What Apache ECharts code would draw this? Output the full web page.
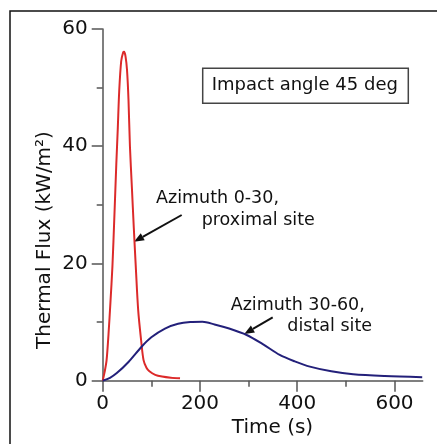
<!DOCTYPE html>
<html>
<head>
<meta charset="utf-8">
<script src="https://cdn.jsdelivr.net/npm/echarts@6/dist/echarts.min.js"></script>
<style>
  html, body { margin: 0; padding: 0; background: #fff; }
  #chart { width: 437px; height: 444px; }
</style>
</head>
<body>
<div id="chart"></div>
<script>
// proximal site (azimuth 0-30)
const redTime = [0, 4, 8, 12, 16, 20, 24, 28, 31, 34, 38, 42, 44, 47, 50, 53, 56, 60, 64, 68, 73, 79, 84, 90, 96, 108, 122, 140, 159];
const redFlux = [0, 1.5, 3.5, 8, 13.5, 19.5, 28, 37, 43, 49.5, 54.5, 56, 56.1, 55.3, 53, 48, 40, 33, 26, 19.5, 12, 6.9, 3.5, 2.2, 1.6, 1.0, 0.7, 0.5, 0.4];
// distal site (azimuth 30-60)
const blueTime = [0, 15, 29, 53, 80, 100, 128, 155, 180, 205, 230, 260, 296, 330, 364, 395, 426, 470, 515, 580, 657];
const blueFlux = [0, 0.5, 1.3, 3.2, 5.8, 7.4, 8.9, 9.7, 10.0, 10.05, 9.6, 8.9, 7.8, 6.2, 4.4, 3.3, 2.4, 1.6, 1.1, 0.8, 0.6];

const xMajor = [0, 200, 400, 600];
const xMinor = [100, 300, 500];
const xMax = 658;

const font = 'DejaVu Sans';
const axisColor = '#555';
const textColor = '#111';

const chart = echarts.init(document.getElementById('chart'));

const toPairs = (xs, ys) => xs.map((x, i) => [x, ys[i]]);

// arrow = line + filled head
const arrow = (x1, y1, x2, y2) => {
  const dx = x2 - x1, dy = y2 - y1;
  const len = Math.sqrt(dx * dx + dy * dy);
  const ux = dx / len, uy = dy / len;
  const bx = x2 - 10 * ux, by = y2 - 10 * uy;
  return [
    { type: 'line', shape: { x1: x1, y1: y1, x2: bx, y2: by }, style: { stroke: '#111', lineWidth: 2 } },
    { type: 'polygon', shape: { points: [[x2, y2], [bx - 4 * uy, by + 4 * ux], [bx + 4 * uy, by - 4 * ux]] }, style: { fill: '#111' } }
  ];
};

const txt = (x, y, s, size, align, rot) => ({
  type: 'text', x: x, y: y, rotation: rot || 0,
  style: { text: s, font: size + 'px "' + font + '"', fill: textColor, textAlign: align || 'left', textVerticalAlign: 'middle' }
});

const grid = { left: 102.7, right: 14.3, top: 29, bottom: 63.3 };

const option = {
  backgroundColor: '#fff',
  animation: false,
  grid: [grid, Object.assign({}, grid)],
  xAxis: [
    {
      type: 'value', gridIndex: 0, min: 0, max: xMax,
      axisLine: { lineStyle: { color: axisColor, width: 1.5 } },
      axisTick: { customValues: xMajor, length: 11, lineStyle: { color: axisColor, width: 1.5 } },
      axisLabel: { customValues: xMajor, margin: 13, fontSize: 20, fontFamily: font, color: textColor },
      splitLine: { show: false }
    },
    {
      type: 'value', gridIndex: 1, min: 0, max: xMax,
      axisLine: { show: false },
      axisTick: { customValues: xMinor, length: 6, lineStyle: { color: axisColor, width: 1.5 } },
      axisLabel: { show: false },
      splitLine: { show: false }
    }
  ],
  yAxis: [
    {
      type: 'value', gridIndex: 0, min: 0, max: 60, interval: 20,
      axisLine: { show: true, lineStyle: { color: axisColor, width: 1.5 } },
      axisTick: { show: true, length: 11, lineStyle: { color: axisColor, width: 1.5 } },
      minorTick: { show: true, splitNumber: 2, length: 6, lineStyle: { color: axisColor, width: 1.5 } },
      axisLabel: { margin: 15, fontSize: 20, fontFamily: font, color: textColor },
      splitLine: { show: false }
    },
    {
      type: 'value', gridIndex: 1, min: 0, max: 60, show: false
    }
  ],
  series: [
    {
      type: 'line', xAxisIndex: 0, yAxisIndex: 0,
      data: toPairs(redTime, redFlux),
      showSymbol: false, smooth: 0.3,
      lineStyle: { color: '#dc2a2a', width: 2 }
    },
    {
      type: 'line', xAxisIndex: 0, yAxisIndex: 0,
      data: toPairs(blueTime, blueFlux),
      showSymbol: false, smooth: 0.3,
      lineStyle: { color: '#23207a', width: 2 }
    }
  ],
  graphic: [
    // outer frame
    { type: 'rect', shape: { x: 10, y: 11, width: 460, height: 460 }, style: { fill: 'none', stroke: '#111', lineWidth: 1.5 } },
    // axis titles
    txt(45, 240, 'Thermal Flux (kW/m²)', 20, 'center', Math.PI / 2),
    txt(272.5, 428, 'Time (s)', 20, 'center'),
    // label box
    { type: 'rect', shape: { x: 202.7, y: 68.3, width: 205.6, height: 35 }, style: { fill: '#fff', stroke: '#444', lineWidth: 1.5 } },
    txt(211.7, 85, 'Impact angle 45 deg', 18),
    // annotations
    txt(156, 198, 'Azimuth 0-30,', 17.5),
    txt(201.7, 220, 'proximal site', 17.5),
    txt(230.7, 305, 'Azimuth 30-60,', 17.5),
    txt(287.3, 326, 'distal site', 17.5)
  ].concat(arrow(181.7, 215, 134, 241.7), arrow(272.7, 317.3, 244.3, 334))
};

chart.setOption(option);
</script>
</body>
</html>
